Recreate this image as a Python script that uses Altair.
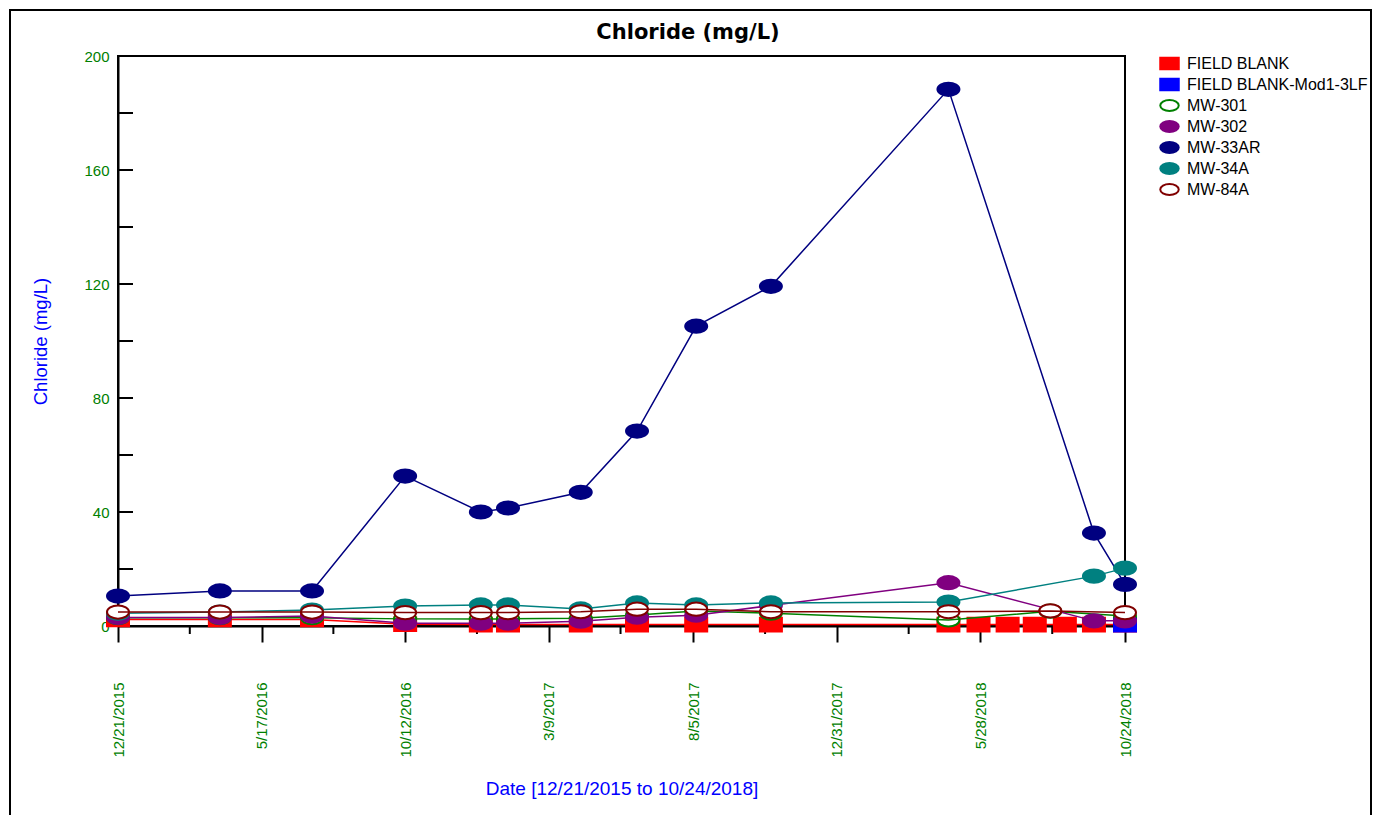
import altair as alt
import pandas as pd

# ---- series definitions -------------------------------------------------
SERIES = ["FIELD BLANK", "FIELD BLANK-Mod1-3LF", "MW-301", "MW-302",
          "MW-33AR", "MW-34A", "MW-84A"]
STROKES = ["#ff0000", "#0000ff", "#008000", "#800080", "#000080", "#008080", "#800000"]
FILLS = ["#ff0000", "#0000ff", "#ffffff", "#800080", "#000080", "#008080", "#ffffff"]
RECT = "M -1 -0.62 L 1 -0.62 L 1 0.62 L -1 0.62 Z"
ELLIPSE = "M -1 0 A 1 0.6 0 1 1 1 0 A 1 0.6 0 1 1 -1 0 Z"
SHAPES = [RECT, RECT, ELLIPSE, ELLIPSE, ELLIPSE, ELLIPSE, ELLIPSE]

# ---- sampling dates ----------------------------------------------------
base_dates = ["2015-12-21", "2016-04-04", "2016-07-08", "2016-10-12", "2016-12-29",
              "2017-01-26", "2017-04-11", "2017-06-08", "2017-08-08", "2017-10-24",
              "2018-04-25"]

field_blank_dates = base_dates + ["2018-05-26", "2018-06-25", "2018-07-23",
                                  "2018-08-23", "2018-09-22", "2018-10-24"]
field_blank_vals = [2.3, 2.3, 2.3, 0.6, 0.5, 0.5, 0.5, 0.5, 0.5, 0.5, 0.5,
                    0.5, 0.5, 0.5, 0.5, 0.5, 0.5]

mod1_dates = ["2018-10-24"]
mod1_vals = [0.5]

mw301_dates = base_dates + ["2018-08-08", "2018-10-24"]
mw301_vals = [2.9, 2.9, 2.9, 2.5, 2.5, 2.5, 2.7, 3.9, 5.3, 4.5, 2.1, 5.2, 3.5]

mw302_dates = base_dates + ["2018-09-22", "2018-10-24"]
mw302_vals = [3.0, 3.0, 3.5, 1.0, 1.0, 1.0, 1.7, 3.1, 3.8, 7.2, 15.2, 1.8, 1.8]

mw33ar_dates = base_dates + ["2018-09-22", "2018-10-24"]
mw33ar_vals = [10.5, 12.3, 12.3, 52.6, 40.0, 41.4, 46.9, 68.4, 105.2, 119.2,
               188.3, 32.6, 14.6]

mw34a_dates = base_dates + ["2018-09-22", "2018-10-24"]
mw34a_vals = [4.5, 4.9, 5.6, 7.0, 7.4, 7.4, 6.0, 8.1, 7.4, 8.1, 8.4, 17.5, 20.3]

mw84a_dates = base_dates + ["2018-08-08", "2018-10-24"]
mw84a_vals = [4.9, 4.9, 4.9, 4.7, 4.7, 4.7, 5.0, 5.9, 5.9, 5.0, 5.0, 5.3, 4.7]

# ---- axis tick positions ---------------------------------------------------
major_ticks = [(2015, 12, 21), (2016, 5, 17), (2016, 10, 12), (2017, 3, 9),
               (2017, 8, 5), (2017, 12, 31), (2018, 5, 28), (2018, 10, 24)]
minor_ticks = ["2016-03-04", "2016-07-30", "2016-12-25", "2017-05-22",
               "2017-10-18", "2018-03-15", "2018-08-10"]
y_ticks = [0, 20, 40, 60, 80, 100, 120, 140, 160, 180, 200]
y_labels = [0, 40, 80, 120, 160, 200]

chart_title = "Chloride (mg/L)"

series_data = [
    (field_blank_dates, field_blank_vals),
    (mod1_dates, mod1_vals),
    (mw301_dates, mw301_vals),
    (mw302_dates, mw302_vals),
    (mw33ar_dates, mw33ar_vals),
    (mw34a_dates, mw34a_vals),
    (mw84a_dates, mw84a_vals),
]

FONT = "Liberation Sans"
W, H = 1007, 570

x_scale = alt.Scale(type="utc", domain=[alt.DateTime(year=2015, month=12, date=21, utc=True),
                                        alt.DateTime(year=2018, month=10, date=24, utc=True)])
y_scale = alt.Scale(domain=[0, 200], nice=False, zero=True)

x_axis = alt.Axis(
    values=[alt.DateTime(year=y, month=m, date=d, utc=True) for y, m, d in major_ticks],
    labelExpr="utcFormat(datum.value, '%-m/%-d/%Y')",
    labelAngle=270, labelAlign="right", labelBaseline="middle",
    labelPadding=40, labelColor="green", labelFont=FONT, labelFontSize=15,
    labelOverlap=False, labelFlush=False,
    tickSize=16, tickWidth=2, tickColor="black",
    domainColor="black", domainWidth=2, grid=False,
    title="Date [12/21/2015 to 10/24/2018]", titleColor="blue", titleFont=FONT,
    titleFontSize=19, titleFontWeight="normal",
    titleX=W / 2, titleY=162, titleAlign="center", titleBaseline="middle",
)
y_axis = alt.Axis(
    values=y_labels, labelColor="green", labelFont=FONT, labelFontSize=15,
    labelPadding=9, ticks=False, tickSize=0,
    domainColor="black", domainWidth=2, grid=False,
    title="Chloride (mg/L)", titleColor="blue", titleFont=FONT,
    titleFontSize=18.5, titleFontWeight="normal",
    titleX=-78, titleY=H / 2, titleAngle=270, titleAlign="center", titleBaseline="middle",
)

legend = alt.Legend(
    title=None, orient="none", legendX=1041, legendY=-3, padding=0,
    labelFont=FONT, labelFontSize=16, labelColor="black", labelLimit=400,
    symbolSize=342, symbolStrokeWidth=2, rowPadding=0, labelOffset=7,
)

rows = []
for name, (dates, vals) in zip(SERIES, series_data):
    for d, v in zip(dates, vals):
        rows.append({"series": name, "date": d, "value": v})
df = pd.DataFrame(rows)

xenc = alt.X("date:T", scale=x_scale, axis=x_axis)
yenc = alt.Y("value:Q", scale=y_scale, axis=y_axis)

layers = []

# outer frame around the whole figure
frame = alt.Chart(pd.DataFrame({"k": [0]})).mark_rect(
    fillOpacity=0, stroke="black", strokeWidth=2
).encode(x=alt.value(-108), x2=alt.value(1253), y=alt.value(-46), y2=alt.value(820))
layers.append(frame)

# chart heading
heading = alt.Chart(pd.DataFrame({"t": [chart_title]})).mark_text(
    font="DejaVu Sans", fontSize=21, fontWeight="bold", color="black",
    align="center", baseline="middle"
).encode(text="t:N", x=alt.value(570), y=alt.value(-23))
layers.append(heading)

# inward y ticks
ytick = alt.Chart(pd.DataFrame({"value": y_ticks})).mark_rule(
    color="black", strokeWidth=2
).encode(y=yenc, x=alt.value(0), x2=alt.value(15))
layers.append(ytick)

# short minor ticks below the date axis
xminor = alt.Chart(pd.DataFrame({"date": minor_ticks})).mark_rule(
    color="black", strokeWidth=2
).encode(x=xenc, y=alt.value(H), y2=alt.value(H + 8))
layers.append(xminor)

for i, name in enumerate(SERIES):
    sub = df[df.series == name]
    pts = alt.Chart(sub).mark_point(opacity=1, size=484, strokeWidth=2).encode(
        x=xenc, y=yenc,
        fill=alt.Fill("series:N", scale=alt.Scale(domain=SERIES, range=FILLS), legend=legend),
        stroke=alt.Stroke("series:N", scale=alt.Scale(domain=SERIES, range=STROKES), legend=legend),
        shape=alt.Shape("series:N", scale=alt.Scale(domain=SERIES, range=SHAPES), legend=legend),
    )
    line = alt.Chart(sub).mark_line(color=STROKES[i], strokeWidth=1.5).encode(x=xenc, y=yenc)
    layers.append(pts)
    layers.append(line)

chart = alt.layer(*layers).properties(
    width=W, height=H,
    autosize=alt.AutoSizeParams(type="none"),
    padding={"left": 118, "top": 56, "right": 1374 - 118 - W, "bottom": 815 - 56 - H},
    background="white",
).configure_view(stroke="black", strokeWidth=2)

chart.save("out.html", embed_options={"renderer": "svg", "actions": False})
